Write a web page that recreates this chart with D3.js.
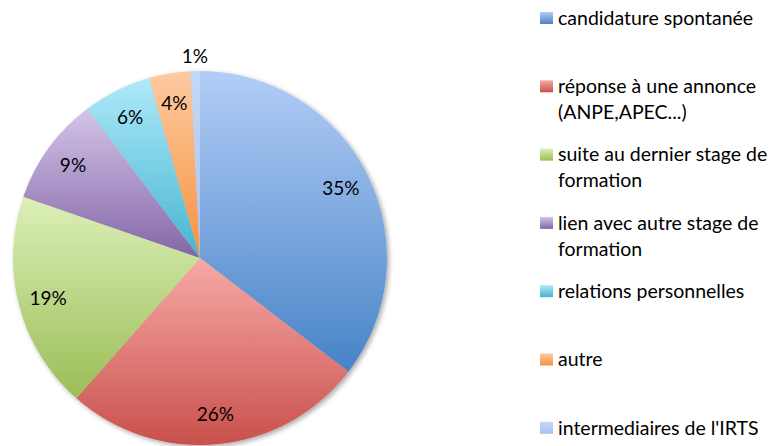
<!DOCTYPE html>
<html><head><meta charset="utf-8">
<script src="https://cdn.jsdelivr.net/npm/d3@7"></script>
<style>html,body{margin:0;padding:0;background:#fff;}svg{display:block;font-family:Lato,"Open Sans",sans-serif;}</style>
</head><body>
<svg id="chart" width="771" height="446"></svg>
<script>
const categories = ["candidature spontanée","réponse à une annonce (ANPE,APEC...)","suite au dernier stage de formation","lien avec autre stage de formation","relations personnelles","autre","intermediaires de l'IRTS"];
const legendLines = [["candidature spontanée"],["réponse à une annonce","(ANPE,APEC...)"],["suite au dernier stage de","formation"],["lien avec autre stage de","formation"],["relations personnelles"],["autre"],["intermediaires de l'IRTS"]];
const values = [35.4, 26.1, 18.8, 9.4, 5.9, 3.6, 0.8];
const colorTop = ["#b3cdf7","#f7aaa6","#dcf0b8","#d3c4e8","#aee9fa","#fdcaa0","#c6d8f7"];
const colorBottom = ["#4783c6","#c9504c","#9bbd57","#8466a6","#46b5d0","#f6913f","#a9c2ee"];

const svg = d3.select("#chart");
const cx = 200, cy = 258, R = 187;
const defs = svg.append("defs");
categories.forEach((c,i)=>{
  const g = defs.append("linearGradient").attr("id","g"+i).attr("x1",0).attr("y1",0).attr("x2",0).attr("y2",1);
  g.append("stop").attr("offset","0%").attr("stop-color",colorTop[i]);
  g.append("stop").attr("offset","100%").attr("stop-color",colorBottom[i]);
});
const f = defs.append("filter").attr("id","sh").attr("x","-10%").attr("y","-10%").attr("width","130%").attr("height","130%");
f.append("feGaussianBlur").attr("in","SourceAlpha").attr("stdDeviation",2.5);
f.append("feOffset").attr("dx",2).attr("dy",2).attr("result","b");
f.append("feComponentTransfer").append("feFuncA").attr("type","linear").attr("slope",0.35);
const m = f.append("feMerge"); m.append("feMergeNode"); m.append("feMergeNode").attr("in","SourceGraphic");

const pie = d3.pie().sort(null).value(d=>d)(values);
const arc = d3.arc().innerRadius(0).outerRadius(R);
const g = svg.append("g").attr("transform",`translate(${cx},${cy})`);
const sg = g.append("g").attr("filter","url(#sh)");
sg.selectAll("path").data(pie).join("path")
  .attr("d",arc).attr("fill",(d,i)=>`url(#g${i})`);

const total = d3.sum(values);
g.selectAll("text.lbl").data(pie).join("text").attr("class","lbl")
  .attr("transform",d=>{
    const a=(d.startAngle+d.endAngle)/2;
    const r = (d.value/total<0.02)? 202 : 157;
    return `translate(${Math.sin(a)*r},${-Math.cos(a)*r})`;
  })
  .attr("text-anchor","middle").attr("dy","0.35em")
  .attr("font-size",19).attr("fill","#000")
  .text(d=>Math.round(d.value/total*100)+"%");

const lg = svg.append("g");
const y0 = 18, step = 68.3, lh = 26;
legendLines.forEach((lines,i)=>{
  const y = y0 + i*step;
  lg.append("rect").attr("x",540).attr("y",y-6).attr("width",13).attr("height",12).attr("fill",`url(#g${i})`);
  lines.forEach((t,j)=>{
    lg.append("text").attr("x",558).attr("y",y+j*lh).attr("dy","0.35em")
      .attr("font-size",19.5).attr("fill","#000").text(t);
  });
});
</script>
</body></html>
